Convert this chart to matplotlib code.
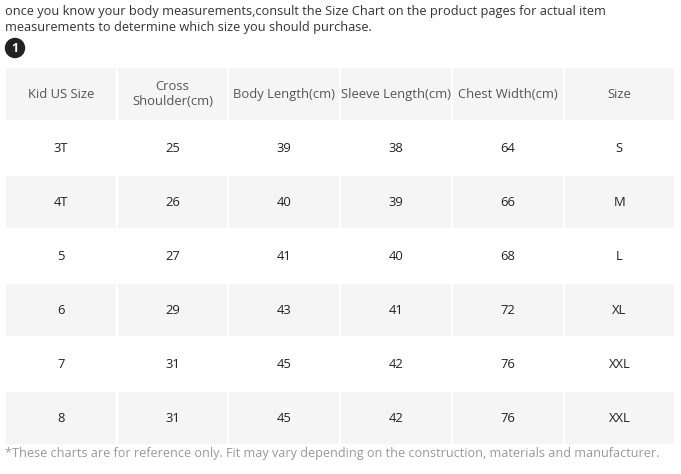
import matplotlib.pyplot as plt
from matplotlib.patches import Rectangle, Circle

plt.rcParams['font.family'] = ['Open Sans', 'DejaVu Sans']

intro = ("once you know your body measurements,consult the Size Chart on the product pages for actual item\n"
         "measurements to determine which size you should purchase.")
footnote = "*These charts are for reference only. Fit may vary depending on the construction, materials and manufacturer."

headers = ["Kid US Size", "Cross\nShoulder(cm)", "Body Length(cm)", "Sleeve Length(cm)", "Chest Width(cm)", "Size"]
kid_us_size = ["3T", "4T", "5", "6", "7", "8"]
cross_shoulder = [25, 26, 27, 29, 31, 31]
body_length = [39, 40, 41, 43, 45, 45]
sleeve_length = [38, 39, 40, 41, 42, 42]
chest_width = [64, 66, 68, 72, 76, 76]
size = ["S", "M", "L", "XL", "XXL", "XXL"]

columns = [kid_us_size, cross_shoulder, body_length, sleeve_length, chest_width, size]

fig = plt.figure(figsize=(6.81, 4.74), dpi=100)
ax = fig.add_axes([0, 0, 1, 1])
ax.set_xlim(0, 681)
ax.set_ylim(474, 0)
ax.axis('off')

# intro text and the numbered badge
ax.text(5, 4.5, intro, ha='left', va='top', fontsize=9.2, color='#333333', linespacing=1.3)
ax.add_patch(Circle((15, 48), 9.5, color='#222222'))
ax.text(15, 48, "1", ha='center', va='center', fontsize=9, color='white', fontweight='bold')

# table geometry
left, top = 6, 68
pitch_x, pitch_y = 111.7, 54
cell_w, cell_h = 109.7, 52
gray = '#f5f5f5'

for j, h in enumerate(headers):
    x = left + j * pitch_x
    ax.add_patch(Rectangle((x, top), cell_w, cell_h, facecolor=gray, edgecolor='none'))
    ax.text(x + cell_w / 2, top + cell_h / 2, h, ha='center', va='center',
            fontsize=9.4, color='#555555', linespacing=1.15)

for i in range(len(kid_us_size)):
    y = top + (i + 1) * pitch_y
    for j, col in enumerate(columns):
        x = left + j * pitch_x
        if i % 2 == 1:
            ax.add_patch(Rectangle((x, y), cell_w, cell_h, facecolor=gray, edgecolor='none'))
        ax.text(x + cell_w / 2, y + cell_h / 2, str(col[i]), ha='center', va='center',
                fontsize=9.4, color='#222222')

ax.text(5, 453, footnote, ha='left', va='center', fontsize=9.1, color='#999999')

fig.savefig("out.png", dpi=100)
